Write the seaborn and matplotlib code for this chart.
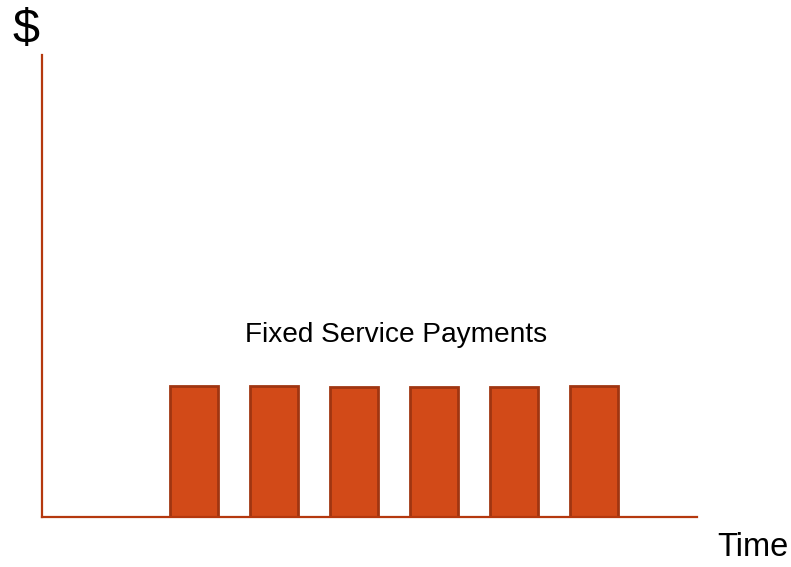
import matplotlib
matplotlib.use("Agg")
import matplotlib.pyplot as plt
import seaborn as sns
import pandas as pd

periods = ["P1", "P2", "P3", "P4", "P5", "P6"]
payments = [28.4, 28.4, 28.2, 28.2, 28.2, 28.4]
bar_label = "Fixed Service Payments"
y_label = "$"
x_label = "Time"

sns.set_theme(style="white")
plt.rcParams['font.family'] = ['Liberation Sans', 'DejaVu Sans']

df = pd.DataFrame({"period": periods, "payment": payments})

fig = plt.figure(figsize=(7.91, 5.67), dpi=100)
ax = fig.add_axes([42/791, 50/567, 655/791, 462/567])

sns.barplot(data=df, x="period", y="payment", order=periods, ax=ax,
            color="#D24A18", saturation=1, width=0.6,
            edgecolor="#A03511", linewidth=2, errorbar=None)

ax.set_xlim(-1.9, 6.2875)
ax.set_ylim(0, 100)
ax.set_xticks([])
ax.set_yticks([])
ax.set_xlabel("")
ax.set_ylabel("")
for s in ["top", "right"]:
    ax.spines[s].set_visible(False)
for s in ["left", "bottom"]:
    ax.spines[s].set_color("#B5380E")
    ax.spines[s].set_linewidth(1.6)

ax.text(2.52, 39.5, bar_label, ha="center", va="center", fontsize=20.2, color="black")
fig.text(26/791, 1 - 31/567, y_label, ha="center", va="center", fontsize=35, color="black")
fig.text(753/791, 1 - 548/567, x_label, ha="center", va="center", fontsize=23.5, color="black")

fig.savefig("out.png", dpi=100)
